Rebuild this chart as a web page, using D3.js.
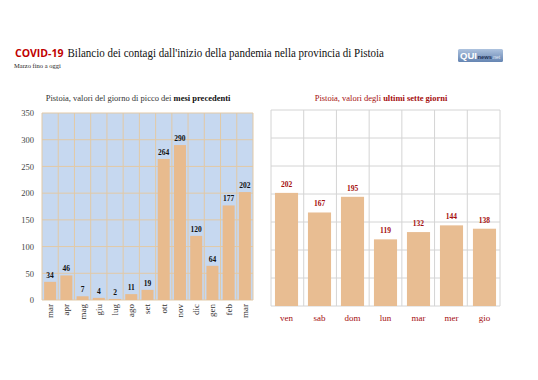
<!DOCTYPE html>
<html><head><meta charset="utf-8">
<script src="https://cdn.jsdelivr.net/npm/d3@7"></script>
<style>body{margin:0;background:#fff}svg{display:block}</style>
</head><body>
<svg id="c" width="538" height="380"></svg>
<script>
const monthLabels = ["mar","apr","mag","giu","lug","ago","set","ott","nov","dic","gen","feb","mar"];
const monthValues = [34,46,7,4,2,11,19,264,290,120,64,177,202];
const dayLabels = ["ven","sab","dom","lun","mar","mer","gio"];
const dayValues = [202,167,195,119,132,144,138];
const yTicks = [0,50,100,150,200,250,300,350];

const svg = d3.select("#c");
const serif = "'Liberation Serif','DejaVu Serif',serif";

// Title
const covid = svg.append("text").attr("x",15).attr("y",57)
  .attr("font-family","'Open Sans','Liberation Sans',sans-serif").attr("font-weight","bold")
  .attr("fill","#c00000").attr("font-size",10.5).text("COVID-19");
const cEnd = 15 + covid.node().getComputedTextLength();
svg.append("text").attr("x",cEnd+4).attr("y",57).attr("font-family",serif).attr("font-size",13.5).attr("fill","#111")
  .attr("textLength",384-(cEnd+4)).attr("lengthAdjust","spacingAndGlyphs")
  .text("Bilancio dei contagi dall'inizio della pandemia nella provincia di Pistoia");
svg.append("text").attr("x",14).attr("y",68).attr("font-family",serif).attr("font-size",6.5).attr("fill","#222").text("Marzo fino a oggi");

// Logo
const grad = svg.append("defs").append("linearGradient").attr("id","lgg").attr("x1",0).attr("y1",0).attr("x2",0).attr("y2",1);
grad.append("stop").attr("offset","0").attr("stop-color","#aec3df");
grad.append("stop").attr("offset","1").attr("stop-color","#6585b2");
const lg = svg.append("g").attr("transform","translate(458,49)");
lg.append("rect").attr("width",45).attr("height",13).attr("rx",1.5).attr("fill","url(#lgg)");
const lt = lg.append("text").attr("x",2).attr("y",10).attr("font-family","'Liberation Sans',sans-serif").attr("fill","#fff");
lt.append("tspan").attr("font-weight","bold").attr("font-size",9.5).text("QUI");
lt.append("tspan").attr("font-size",5.8).attr("font-weight","bold").attr("fill","#1d2f55").attr("dx",0.5).text("news");
lt.append("tspan").attr("font-size",5).attr("fill","#e4ebf5").text(".net");

// Left chart
const L = {x0:42, x1:253, y0:113, y1:300};
const xL = d3.scaleBand().domain(d3.range(monthLabels.length)).range([L.x0,L.x1]).paddingInner(0.26).paddingOuter(0.13);
const yL = d3.scaleLinear().domain([0,350]).range([L.y1,L.y0]);
svg.append("rect").attr("x",L.x0).attr("y",L.y0).attr("width",L.x1-L.x0).attr("height",L.y1-L.y0).attr("fill","#c6d8f0");
const step = (L.x1-L.x0)/monthLabels.length;
svg.append("g").selectAll("line").data(d3.range(monthLabels.length+1)).join("line")
  .attr("x1",i=>L.x0+i*step).attr("x2",i=>L.x0+i*step).attr("y1",L.y0).attr("y2",L.y1)
  .attr("stroke","#e2c9a6").attr("stroke-width",1);
svg.append("g").selectAll("line").data(yTicks).join("line")
  .attr("x1",L.x0).attr("x2",L.x1).attr("y1",d=>yL(d)).attr("y2",d=>yL(d))
  .attr("stroke","#e2c9a6").attr("stroke-width",1);
const yAxisL = svg.append("g").attr("transform",`translate(${L.x0},0)`)
  .call(d3.axisLeft(yL).tickValues(yTicks).tickSize(0).tickPadding(8));
yAxisL.select(".domain").remove();
yAxisL.selectAll("text").attr("font-family",serif).attr("font-size",8.5).attr("fill","#444");
svg.append("g").selectAll("rect").data(monthValues).join("rect")
  .attr("x",(d,i)=>xL(i)).attr("width",xL.bandwidth()).attr("y",d=>yL(d)).attr("height",d=>yL(0)-yL(d)).attr("fill","#e8bb8e");
svg.append("g").selectAll("text").data(monthValues).join("text")
  .attr("x",(d,i)=>xL(i)+xL.bandwidth()/2).attr("y",d=>yL(d)-4).attr("text-anchor","middle")
  .attr("font-family",serif).attr("font-weight","bold").attr("font-size",7.5).attr("fill","#111").text(d=>d);
const xAxisL = svg.append("g").attr("transform",`translate(0,${L.y1})`).call(d3.axisBottom(xL).tickSize(0).tickFormat(i=>monthLabels[i]));
xAxisL.select(".domain").remove();
xAxisL.selectAll("text").attr("font-family",serif).attr("font-size",9).attr("fill","#333")
  .attr("transform","rotate(-90)").attr("text-anchor","end").attr("dy","0.33em").attr("x",-4).attr("y",0);
const tl = svg.append("text").attr("x",138).attr("y",101).attr("text-anchor","middle").attr("font-family",serif).attr("font-size",8.5).attr("fill","#333");
tl.append("tspan").text("Pistoia, valori del giorno di picco dei ");
tl.append("tspan").attr("font-weight","bold").attr("fill","#111").text("mesi precedenti");

// Right chart
const R = {x0:271, x1:500, y0:110, y1:306};
const xR = d3.scaleBand().domain(d3.range(dayLabels.length)).range([R.x0,R.x1]).paddingInner(0.3).paddingOuter(0.12);
const yR = d3.scaleLinear().domain([0,350]).range([R.y1,R.y0]);
const stepR = (R.x1-R.x0)/dayLabels.length;
svg.append("g").selectAll("line").data(d3.range(dayLabels.length+1)).join("line")
  .attr("x1",i=>R.x0+i*stepR).attr("x2",i=>R.x0+i*stepR).attr("y1",R.y0).attr("y2",R.y1)
  .attr("stroke","#d4d4d4").attr("stroke-width",1);
svg.append("g").selectAll("line").data(yTicks).join("line")
  .attr("x1",R.x0).attr("x2",R.x1).attr("y1",d=>yR(d)).attr("y2",d=>yR(d))
  .attr("stroke","#d4d4d4").attr("stroke-width",1);
svg.append("g").selectAll("rect").data(dayValues).join("rect")
  .attr("x",(d,i)=>xR(i)).attr("width",xR.bandwidth()).attr("y",d=>yR(d)).attr("height",d=>yR(0)-yR(d)).attr("fill","#e8bd92");
svg.append("g").selectAll("text").data(dayValues).join("text")
  .attr("x",(d,i)=>xR(i)+xR.bandwidth()/2).attr("y",d=>yR(d)-6).attr("text-anchor","middle")
  .attr("font-family",serif).attr("font-weight","bold").attr("font-size",7.5).attr("fill","#a50e0e").text(d=>d);
const xAxisR = svg.append("g").attr("transform",`translate(0,${R.y1})`).call(d3.axisBottom(xR).tickSize(0).tickPadding(9).tickFormat(i=>dayLabels[i]));
xAxisR.select(".domain").remove();
xAxisR.selectAll("text").attr("font-family",serif).attr("font-size",9).attr("fill","#a50e0e");
const tr = svg.append("text").attr("x",381).attr("y",101).attr("text-anchor","middle").attr("font-family",serif).attr("font-size",8.5).attr("fill","#a50e0e");
tr.append("tspan").text("Pistoia, valori degli ");
tr.append("tspan").attr("font-weight","bold").text("ultimi sette giorni");
</script>
</body></html>
